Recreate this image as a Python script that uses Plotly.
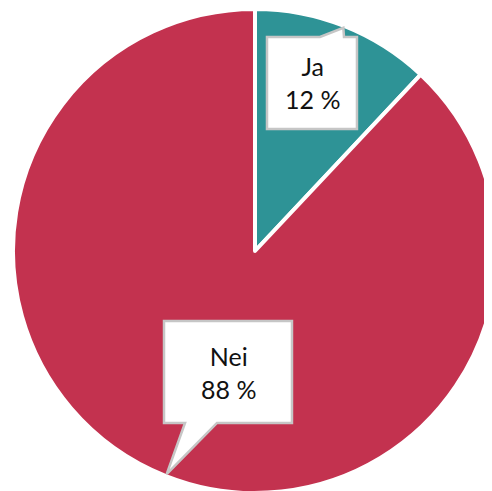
import numpy as np
import plotly.graph_objs as go

W, H = 492, 491
OFF = 8  # page body margin in the browser

labels = ['Ja', 'Nei']
values = [12, 88]
texts = ['Ja<br>12 %', 'Nei<br>88 %']
colors = ['#2E9396', '#C3324F']

# pie placement in screen pixels (domain is set from these)
cx, cy, r = 255, 251, 242

# callout boxes in screen pixels
boxes = [
    dict(x0=267, x1=357, y0=37, y1=129, ta=320, tb=344, side='top'),
    dict(x0=164, x1=292, y0=321, y1=423, ta=185, tb=217, side='bottom'),
]


def px(x, y):
    return (x - OFF) / W, 1 - (y - OFF) / H


fig = go.Figure()
fig.add_trace(go.Pie(
    labels=labels,
    values=values,
    sort=False,
    direction='clockwise',
    rotation=0,
    marker=dict(colors=colors, line=dict(color='white', width=4)),
    textinfo='none',
    hoverinfo='label+percent',
    showlegend=False,
    domain=dict(x=[(cx - r - OFF) / W, (cx + r - OFF) / W],
                y=[1 - (cy + r - OFF) / H, 1 - (cy - r - OFF) / H]),
))

# tail apex on outer edge at the middle angle of each slice
total = float(sum(values))
cum = np.cumsum([0] + values)
shapes = []
annotations = []
for i, b in enumerate(boxes):
    mid = (cum[i] + values[i] / 2) / total * 2 * np.pi
    ax = cx + (r - 2) * np.sin(mid)
    ay = cy - (r - 2) * np.cos(mid)
    if b['side'] == 'top':
        pts = [(b['x0'], b['y0']), (b['ta'], b['y0']), (ax, ay), (b['tb'], b['y0']),
               (b['x1'], b['y0']), (b['x1'], b['y1']), (b['x0'], b['y1'])]
    else:
        pts = [(b['x0'], b['y0']), (b['x1'], b['y0']), (b['x1'], b['y1']),
               (b['tb'], b['y1']), (ax, ay), (b['ta'], b['y1']), (b['x0'], b['y1'])]
    path = 'M ' + ' L '.join('%.4f,%.4f' % px(x, y) for x, y in pts) + ' Z'
    shapes.append(dict(type='path', xref='paper', yref='paper', path=path,
                       fillcolor='white', line=dict(color='#C6C6C6', width=2.5)))
    tx, ty = px((b['x0'] + b['x1']) / 2, (b['y0'] + b['y1']) / 2)
    annotations.append(dict(x=tx, y=ty, xref='paper', yref='paper', text=texts[i],
                            showarrow=False, xanchor='center', yanchor='middle',
                            font=dict(family='Lato', size=25, color='#111111')))

fig.update_layout(
    width=W, height=H,
    margin=dict(l=0, r=0, t=0, b=0),
    paper_bgcolor='white',
    plot_bgcolor='white',
    shapes=shapes,
    annotations=annotations,
)

# figure is a bit larger than the window because of the body margin: no scrollbars
fig.write_html("out.html", post_script=(
    "document.documentElement.style.overflow='hidden';"
    "document.body.style.overflow='hidden';"))
